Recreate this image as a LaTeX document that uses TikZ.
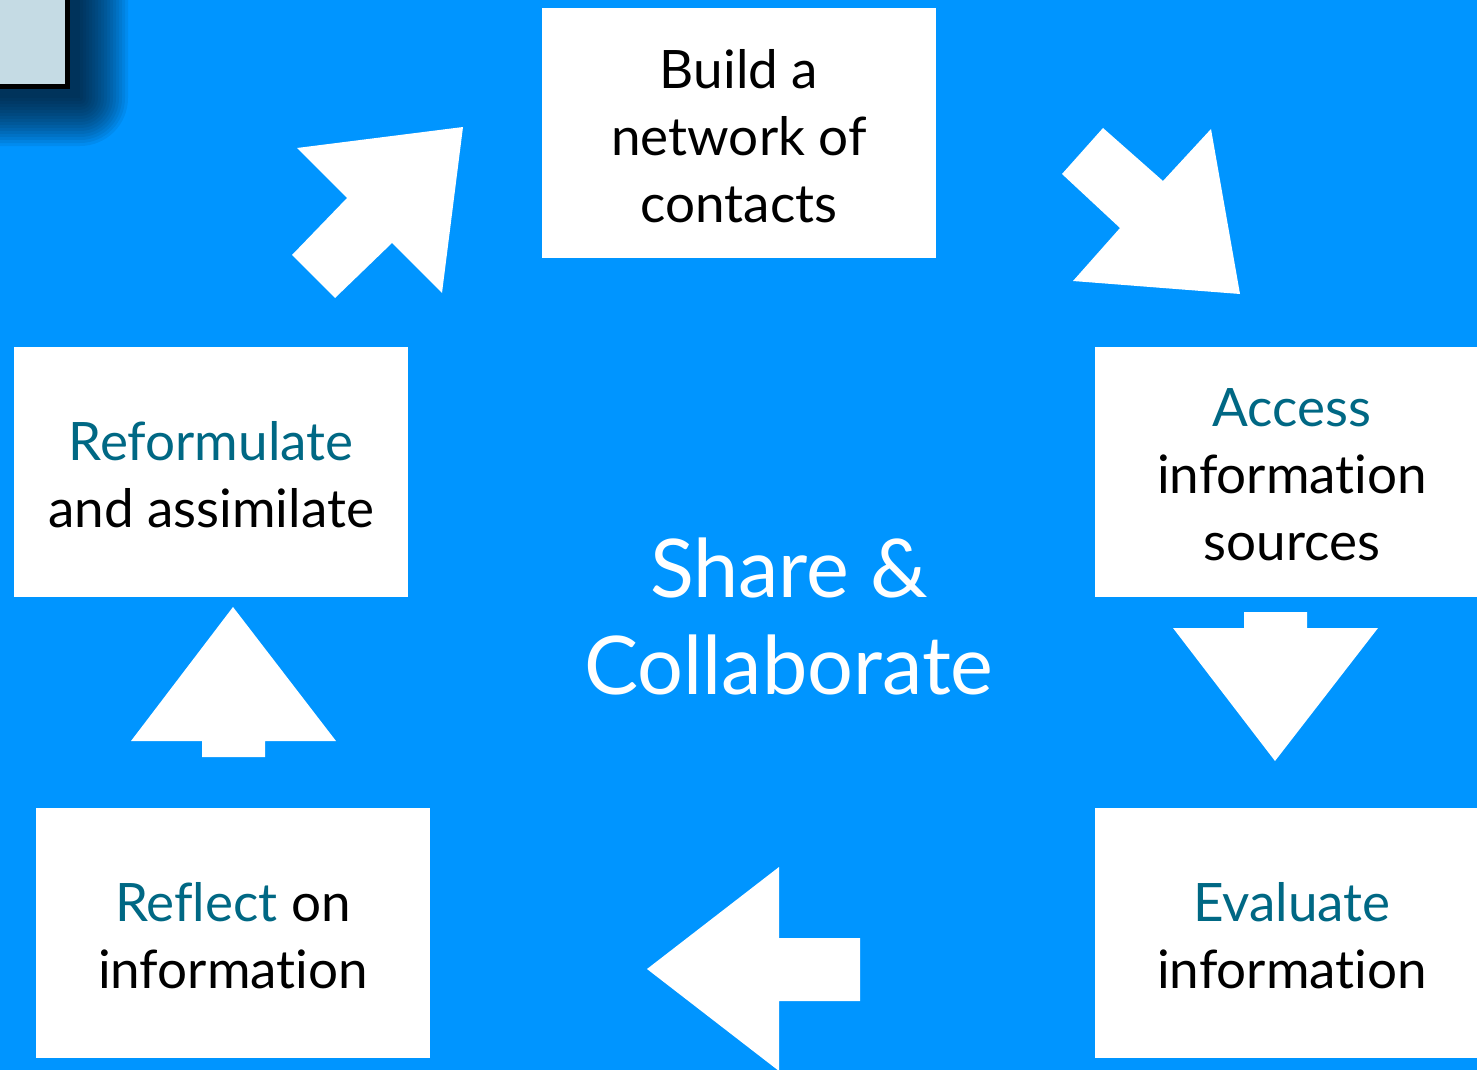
\documentclass[tikz,border=0pt]{standalone}
\usepackage{fontspec}
\setmainfont[RawFeature={-liga;-dlig}]{Lato}
\definecolor{bgblue}{RGB}{0,149,255}
\definecolor{teal}{RGB}{0,104,132}
\definecolor{paleblue}{RGB}{197,219,228}
\definecolor{darknavy}{RGB}{3,18,31}
\begin{document}
\begin{tikzpicture}[x=1pt,y=-1pt,
  stepbox/.style={fill=white,draw=none,minimum width=394pt,minimum height=250pt,inner sep=0pt},
  steptext/.style={align=center,inner sep=0pt,font=\fontsize{53}{67}\selectfont,text=black},
  bigarrow/.style={fill=white,draw=none}]
\useasboundingbox (0,0) rectangle (1477,1070);
\clip (0,0) rectangle (1477,1070);
\fill[bgblue] (0,0) rectangle (1477,1070);
% shadow of the top-left panel
\foreach \d in {48,45,...,0}{
  \fill[darknavy,opacity=0.07,rounded corners=\d pt] (-80,-80) rectangle (80+\d,98+\d);
}
\fill[black] (-5,-5) rectangle (70,89);
\fill[paleblue] (-5,-5) rectangle (65,84);
% boxes
\node[stepbox] (build) at (739,133) {};
\node[stepbox] (access) at (1292,472) {};
\node[stepbox] (evaluate) at (1292,933) {};
\node[stepbox] (reflect) at (233,933) {};
\node[stepbox] (reform) at (211,472) {};
\node[steptext] (buildtxt) at ([yshift=-3pt]build.center) {Build a\\network of\\contacts};
\node[steptext] (accesstxt) at ([yshift=-3pt]access.center) {\textcolor{teal}{Access}\\information\\sources};
\node[steptext] (evaluatetxt) at ([yshift=-3pt]evaluate.center) {\textcolor{teal}{Evaluate}\\information};
\node[steptext] (reflecttxt) at ([yshift=-3pt]reflect.center) {\textcolor{teal}{Reflect} on\\information};
\node[steptext] (reformtxt) at ([yshift=-3pt]reform.center) {\textcolor{teal}{Reformulate}\\and assimilate};
\node[align=center,text=white,font=\fontsize{81}{97}\selectfont,inner sep=0pt] (center) at (789,616) {Share \&\\Collaborate};
% arrows
\fill[bigarrow] (297,148) -- (347,198) -- (292,255) -- (335,298) -- (392,243) -- (442,293) -- (463,127) -- cycle;
\fill[bigarrow] (1103,128) -- (1163,181) -- (1211,129) -- (1240,294) -- (1073,281) -- (1120,228) -- (1062,174) -- cycle;
\fill[bigarrow] (1244,612) -- (1307,612) -- (1307,628) -- (1378,628) -- (1275,761) -- (1173,628) -- (1244,628) -- cycle;
\fill[bigarrow] (647,969) -- (779,867) -- (779,938) -- (860,938) -- (860,1001) -- (779,1001) -- (779,1071) -- cycle;
\fill[bigarrow] (233,607) -- (336,741) -- (265,741) -- (265,757) -- (202,757) -- (202,741) -- (131,741) -- cycle;
\end{tikzpicture}
\end{document}
